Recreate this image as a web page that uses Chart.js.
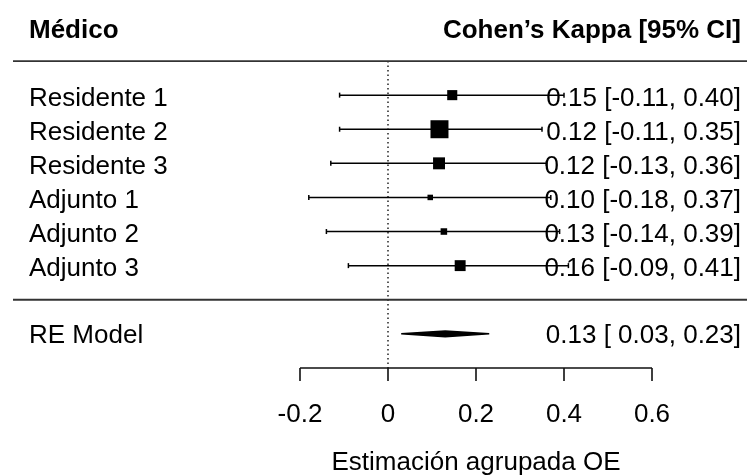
<!DOCTYPE html>
<html>
<head>
<meta charset="utf-8">
<script src="https://cdn.jsdelivr.net/npm/chart.js@4/dist/chart.umd.min.js"></script>
<style>
  html, body { margin: 0; padding: 0; background: #fff; }
</style>
</head>
<body>
<canvas id="forest" width="747" height="475"></canvas>
<script>
// Données
const medicos = ["Residente 1", "Residente 2", "Residente 3", "Adjunto 1", "Adjunto 2", "Adjunto 3"];
const kappa = [0.146, 0.117, 0.116, 0.096, 0.127, 0.164];
const ciLow = [-0.11, -0.11, -0.13, -0.18, -0.14, -0.09];
const ciHigh = [0.40, 0.35, 0.36, 0.37, 0.39, 0.41];
const pesos = [16.2, 20.0, 17.1, 14.0, 14.5, 16.6];

const reLabel = "RE Model";
const reEst = 0.13;
const reLow = 0.03;
const reHigh = 0.23;

const xTicks = [-0.2, 0, 0.2, 0.4, 0.6];
const xTitle = "Estimación agrupada OE";
const headerLeft = "Médico";
const headerRight = "Cohen’s Kappa [95% CI]";

const FONT = "'Liberation Sans', Arial, sans-serif";

// lignes : études de k à 1, modèle RE à -1, axe à -2
const rows = medicos.map((_, i) => medicos.length - i);
const topRow = medicos.length + 1;
const reRow = -1;
const axisRow = -2;

function fmtLow(v) {
  return v < 0 ? v.toFixed(2) : " " + v.toFixed(2);
}

// taille des carrés selon le poids
const wMin = Math.min(...pesos);
const wMax = Math.max(...pesos);
const radii = pesos.map((w) => (5.5 + ((w - wMin) / (wMax - wMin)) * 12.5) / Math.SQRT2);

const datasets = [];

// carrés
datasets.push({
  data: kappa.map((k, i) => ({ x: k, y: rows[i] })),
  pointStyle: "rect",
  pointRadius: radii,
  pointBackgroundColor: "#000",
  pointBorderWidth: 0,
  showLine: false,
  order: 0,
});

// intervalles de confiance
medicos.forEach((m, i) => {
  datasets.push({
    data: [
      { x: ciLow[i], y: rows[i] },
      { x: ciHigh[i], y: rows[i] },
    ],
    showLine: true,
    borderColor: "#000",
    borderWidth: 1.5,
    pointStyle: "line",
    pointRotation: 90,
    pointRadius: 2.5,
    pointBorderColor: "#000",
    pointBorderWidth: 1.5,
    order: 2,
  });
});

// losange du modèle RE
const h = 0.085;
datasets.push({
  data: [
    { x: reLow, y: reRow },
    { x: reEst, y: reRow + h },
    { x: reHigh, y: reRow },
    { x: reEst, y: reRow - h },
    { x: reLow, y: reRow },
  ],
  showLine: true,
  fill: "shape",
  backgroundColor: "#000",
  borderColor: "#000",
  borderWidth: 1.5,
  pointRadius: 0,
  tension: 0,
  order: 1,
});

// ligne de référence à 0
datasets.push({
  data: [
    { x: 0, y: topRow },
    { x: 0, y: axisRow },
  ],
  showLine: true,
  borderColor: "#000",
  borderWidth: 1.3,
  borderDash: [1.5, 3],
  pointRadius: 0,
  order: 3,
});

const textos = {
  id: "textos",
  afterDraw(chart) {
    const ctx = chart.ctx;
    const xs = chart.scales.x;
    const ys = chart.scales.y;
    const area = chart.chartArea;
    ctx.save();

    // lignes horizontales
    ctx.strokeStyle = "#333";
    ctx.lineWidth = 1.8;
    [topRow, 0].forEach((r) => {
      const y = ys.getPixelForValue(r);
      ctx.beginPath();
      ctx.moveTo(area.left + 13, y);
      ctx.lineTo(area.right, y);
      ctx.stroke();
    });

    // axe x
    const ya = ys.getPixelForValue(axisRow);
    ctx.strokeStyle = "#111";
    ctx.lineWidth = 1.6;
    ctx.beginPath();
    ctx.moveTo(xs.getPixelForValue(xTicks[0]), ya);
    ctx.lineTo(xs.getPixelForValue(xTicks[xTicks.length - 1]), ya);
    xTicks.forEach((t) => {
      const x = xs.getPixelForValue(t);
      ctx.moveTo(x, ya);
      ctx.lineTo(x, ya + 13);
    });
    ctx.stroke();

    ctx.fillStyle = "#000";
    ctx.textBaseline = "alphabetic";

    // titres
    ctx.font = "bold 26px " + FONT;
    ctx.textAlign = "left";
    ctx.fillText(headerLeft, 29, ys.getPixelForValue(topRow + 1) + 11);
    ctx.textAlign = "right";
    ctx.fillText(headerRight, 741, ys.getPixelForValue(topRow + 1) + 11);

    // étiquettes
    ctx.font = "26px " + FONT;
    medicos.forEach((m, i) => {
      const y = ys.getPixelForValue(rows[i]) + 10.5;
      ctx.textAlign = "left";
      ctx.fillText(m, 29, y);
      ctx.textAlign = "right";
      ctx.fillText(kappa[i].toFixed(2) + " [" + fmtLow(ciLow[i]) + ", " + ciHigh[i].toFixed(2) + "]", 741, y);
    });
    const yr = ys.getPixelForValue(reRow) + 9;
    ctx.textAlign = "left";
    ctx.fillText(reLabel, 29, yr);
    ctx.textAlign = "right";
    ctx.fillText(reEst.toFixed(2) + " [" + fmtLow(reLow) + ", " + reHigh.toFixed(2) + "]", 741, yr);

    // graduations
    ctx.textAlign = "center";
    xTicks.forEach((t) => {
      const lbl = t === 0 ? "0" : String(t);
      ctx.fillText(lbl, xs.getPixelForValue(t), ya + 54.5);
    });
    ctx.fillText(xTitle, xs.getPixelForValue((xTicks[0] + xTicks[xTicks.length - 1]) / 2), ya + 102);

    ctx.restore();
  },
};

new Chart(document.getElementById("forest"), {
  type: "scatter",
  data: { datasets: datasets },
  options: {
    responsive: false,
    animation: false,
    events: [],
    layout: { padding: 0, autoPadding: false },
    plugins: {
      legend: { display: false },
      tooltip: { enabled: false },
    },
    scales: {
      x: { type: "linear", display: false, min: -0.8818, max: 0.8159 },
      y: { type: "linear", display: false, min: -5.14, max: 8.79 },
    },
  },
  plugins: [textos],
});
</script>
</body>
</html>
